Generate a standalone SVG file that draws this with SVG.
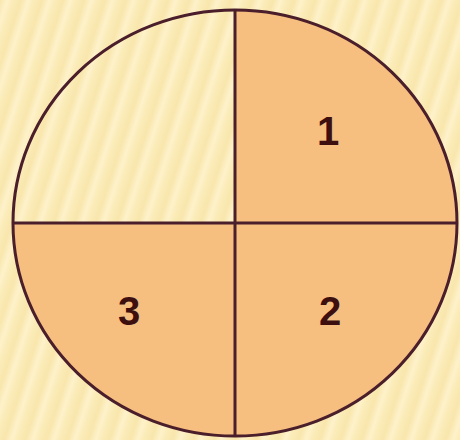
<svg xmlns="http://www.w3.org/2000/svg" width="460" height="440" viewBox="0 0 460 440">
  <defs>
    <linearGradient id="sg" x1="0" y1="0" x2="1" y2="0">
      <stop offset="0" stop-color="#F8E6AC"/>
      <stop offset="0.35" stop-color="#FEF2CB"/>
      <stop offset="0.6" stop-color="#FBECB9"/>
      <stop offset="1" stop-color="#F8E6AC"/>
    </linearGradient>
    <pattern id="stripes" patternUnits="userSpaceOnUse" width="20" height="600" patternTransform="rotate(18)">
      <rect width="20" height="600" fill="url(#sg)"/>
    </pattern>
    <style>
      .outline { fill: none; stroke: #4A1E2A; stroke-width: 3; }
      .quad { fill: #F6BE7F; }
      .div { stroke: #4A1E2A; stroke-width: 3; }
      .num { font-family: "Liberation Sans", Arial, sans-serif; font-weight: bold; font-size: 40px; fill: #3D0F0F; text-anchor: middle; }
    </style>
  </defs>
  <rect width="460" height="440" fill="url(#stripes)"/>
  <g id="sectors">
    <path class="quad" d="M235,223 L235,10 A222,213 0 1 1 13,223 Z"/>
  </g>
  <g id="connectors">
    <line class="div" x1="235" y1="10" x2="235" y2="436"/>
    <line class="div" x1="13" y1="223" x2="457" y2="223"/>
  </g>
  <g id="circle">
    <ellipse class="outline" cx="235" cy="223" rx="222" ry="213"/>
  </g>
  <g id="n1"><text class="num" x="328" y="145">1</text></g>
  <g id="n2"><text class="num" x="330" y="325">2</text></g>
  <g id="n3"><text class="num" x="129" y="325">3</text></g>
</svg>
